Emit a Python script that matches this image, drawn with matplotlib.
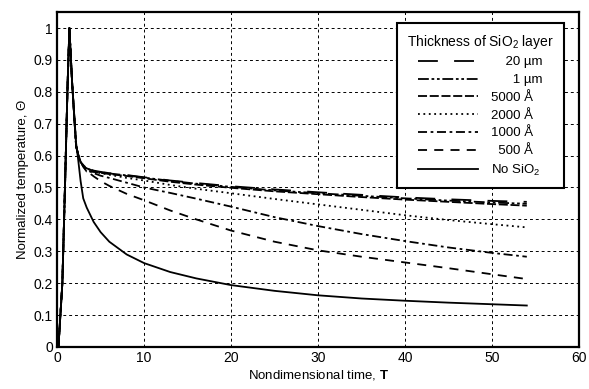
import matplotlib
matplotlib.use("Agg")
import matplotlib.pyplot as plt

plt.rcParams["font.family"] = ["Liberation Sans", "DejaVu Sans"]
plt.rcParams["mathtext.fontset"] = "custom"
plt.rcParams["mathtext.rm"] = "Liberation Sans"
plt.rcParams["mathtext.bf"] = "Liberation Sans:bold"

# time grid shared by all curves
T = [0, 0.15, 0.6, 0.92, 1.2, 1.41, 1.72, 2.18, 2.45, 2.7, 3.0, 3.4, 4.2, 5, 6, 8,
     10, 13, 16, 20, 25, 30, 35, 40, 45, 50, 54]

# common heating pulse (first 9 points) followed by the cooling tails
rise = [0, 0, 0.2, 0.52, 0.82, 1.0, 0.83, 0.63, 0.60]

theta_20um = rise + [0.58, 0.57, 0.56, 0.553, 0.549, 0.545, 0.539, 0.532, 0.522, 0.514,
                     0.504, 0.494, 0.485, 0.477, 0.469, 0.463, 0.458, 0.455]
theta_1um = rise + [0.58, 0.57, 0.56, 0.552, 0.548, 0.544, 0.538, 0.531, 0.521, 0.512,
                    0.502, 0.491, 0.482, 0.474, 0.466, 0.459, 0.453, 0.449]
theta_5000 = rise + [0.58, 0.565, 0.55, 0.549, 0.546, 0.542, 0.536, 0.529, 0.518, 0.509,
                     0.499, 0.488, 0.479, 0.47, 0.462, 0.455, 0.448, 0.443]
theta_2000 = rise + [0.58, 0.57, 0.56, 0.55, 0.545, 0.54, 0.53, 0.522, 0.508, 0.496,
                     0.482, 0.464, 0.447, 0.43, 0.413, 0.398, 0.385, 0.375]
theta_1000 = rise + [0.58, 0.57, 0.558, 0.545, 0.537, 0.53, 0.515, 0.5, 0.483, 0.465,
                     0.44, 0.407, 0.379, 0.354, 0.332, 0.312, 0.295, 0.283]
theta_500 = rise + [0.58, 0.567, 0.552, 0.535, 0.52, 0.505, 0.48, 0.46, 0.428, 0.4,
                    0.365, 0.33, 0.303, 0.283, 0.265, 0.247, 0.228, 0.213]
theta_none = [0, 0, 0.2, 0.52, 0.82, 1.0, 0.83, 0.64, 0.58, 0.52, 0.466, 0.437, 0.392,
              0.36, 0.33, 0.29, 0.263, 0.235, 0.215, 0.194, 0.176, 0.162, 0.152, 0.145,
              0.139, 0.134, 0.13]

# labels padded so they sit roughly right-aligned like the original figure
series = [
    ("    20 µm", theta_20um, (0, (11, 9))),
    ("      1 µm", theta_1um, (0, (6, 1.5, 1.5, 1.5, 1.5, 1.5))),
    ("5000 Å", theta_5000, (0, (5, 1.5))),
    ("2000 Å", theta_2000, (0, (1, 2))),
    ("1000 Å", theta_1000, (0, (5, 2, 1.5, 2))),
    ("  500 Å", theta_500, (0, (5, 4))),
    ("No SiO$_2$", theta_none, "-"),
]

fig = plt.figure(figsize=(5.89, 3.89), dpi=100)
ax = fig.add_axes([0.097, 0.108, 0.886, 0.861])

for label, y, ls in series:
    ax.plot(T, y, color="black", lw=1.3, linestyle=ls, label=label)

ax.set_xlim(0, 60)
ax.set_ylim(0, 1.05)
ax.set_xticks(range(0, 61, 10))
ax.set_yticks([i / 10 for i in range(11)])
ax.set_yticklabels(["0", "0.1", "0.2", "0.3", "0.4", "0.5", "0.6", "0.7", "0.8", "0.9", "1"])
ax.grid(True, color="black", linestyle=(0, (3, 3)), lw=0.7)
ax.tick_params(direction="in", length=0, labelsize=10, pad=3)
for spine in ax.spines.values():
    spine.set_linewidth(1.6)

ax.set_xlabel("Nondimensional time, $\\mathbf{T}$", fontsize=9.5, labelpad=2)
ax.set_ylabel("Normalized temperature, Θ", fontsize=9.5, labelpad=3)

leg = ax.legend(title="Thickness of SiO$_2$ layer", loc="upper right",
                bbox_to_anchor=(0.983, 0.988), fontsize=9.5, title_fontsize=10,
                handlelength=4.5, labelspacing=0.42, handletextpad=1.0,
                frameon=True, fancybox=False, edgecolor="black", framealpha=1,
                borderpad=0.75)
leg.get_frame().set_linewidth(1.5)

fig.savefig("out.png", dpi=100)
